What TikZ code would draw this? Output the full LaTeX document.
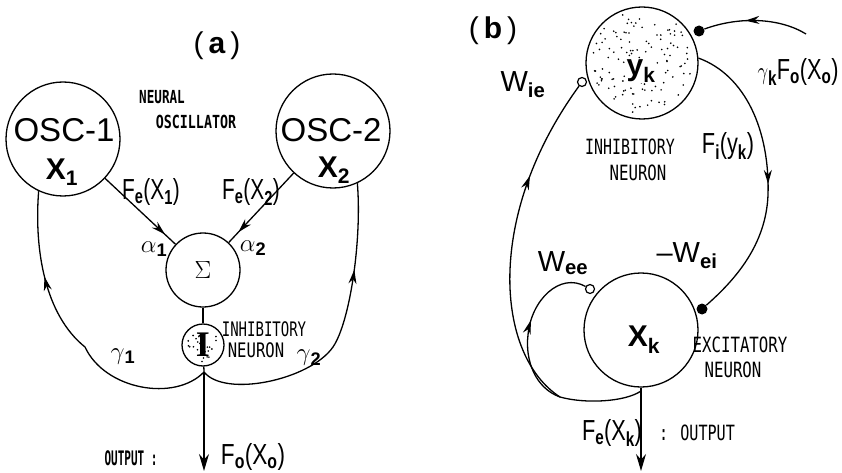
\documentclass[tikz,border=0pt]{standalone}
\usepackage{fontspec}
\usepackage{graphicx}
\setmainfont{Liberation Sans}
\newfontfamily\monof{DejaVu Sans Mono}
\newfontfamily\seriff{Liberation Serif}
\usetikzlibrary{arrows.meta,decorations.markings}
\newcommand\monolbl[3]{{\monof\fontsize{#1}{#1}\selectfont\scalebox{#2}[1]{#3}}}
\newcommand\bigtxt[2]{{\fontsize{#1}{#1}\selectfont #2}}
\newcommand\condtxt[3]{{\fontsize{#1}{#1}\selectfont\scalebox{#2}[1]{#3}}}
\tikzset{
  neuron/.style={circle,draw,line width=1.3pt,inner sep=0pt},
  wire/.style={line width=1.3pt},
  tipend/.style={-{Stealth[length=17pt,width=10pt]}},
  midarrow/.style={postaction={decorate},decoration={markings,mark=at position #1 with {\arrow{Stealth[length=14pt,width=8pt]}}}},
  fdot/.style={circle,fill,inner sep=0pt,minimum size=11pt},
  odot/.style={circle,draw,fill=white,line width=1.2pt,inner sep=0pt,minimum size=9pt},
  lbl/.style={inner sep=0pt},
}
\begin{document}
\begin{tikzpicture}[x=1pt,y=-1pt]
\useasboundingbox[fill=white] (0,0) rectangle (842,473);
% ---------------- panel (a)
\node[neuron,minimum size=114pt] (osc1) at (63,139) {};
\node[neuron,minimum size=114pt] (osc2) at (333,131) {};
\node[neuron,minimum size=74pt] (sum) at (203,270) {\fontsize{24}{24}\selectfont$\Sigma$};
\node[neuron,minimum size=42pt] (inh) at (203,345) {};
\pgfmathsetseed{11}
\foreach \i in {1,...,24}{
  \pgfmathsetmacro\rr{17*sqrt(rnd)}
  \pgfmathsetmacro\aa{360*rnd}
  \fill (inh.center) ++(\aa:\rr) circle[radius=0.9pt];
}
\node[lbl] (ilbl) at (203,345) {\seriff\bfseries\fontsize{36}{36}\selectfont I};
\node[lbl] (t1) at (64,130) {\bigtxt{33}{OSC-1}};
\node[lbl] (t1x) at (62,172) {\bigtxt{30}{\bfseries X\textsubscript{1}}};
\node[lbl] (t2) at (331,130) {\bigtxt{33}{OSC-2}};
\node[lbl] (t2x) at (334,170) {\bigtxt{30}{\bfseries X\textsubscript{2}}};
\draw[wire,midarrow=0.85] (osc1) -- (sum);
\draw[wire,midarrow=0.85] (osc2) -- (sum);
\draw[wire] (sum) -- (inh);
\coordinate (ja) at (204,372);
\coordinate (outa) at (204,471);
\draw[wire] (inh) -- (ja);
\draw[wire,midarrow=0.72] (ja) .. controls (175,402) and (105,390) .. (85,347)
   .. controls (45,315) and (34,250) .. (osc1.-115);
\draw[wire,midarrow=0.72] (ja) .. controls (225,398) and (310,380) .. (333,347)
   .. controls (350,322) and (362,240) .. (osc2.-65);
\draw[wire,tipend] (ja) -- (outa);
\node[lbl] (ta) at (217,46) {\bigtxt{30}{(\,\textbf{a}\,)}};
\node[lbl] (tneu) at (162,97) {\monolbl{18}{0.7}{\bfseries NEURAL}};
\node[lbl] (tosc) at (196,122) {\monolbl{18}{0.74}{\bfseries OSCILLATOR}};
\node[lbl] (fe1) at (151,192) {\condtxt{29}{0.72}{F\textsubscript{\bfseries e}(X\textsubscript{\bfseries 1})}};
\node[lbl] (fe2) at (251,192) {\condtxt{29}{0.72}{F\textsubscript{\bfseries e}(X\textsubscript{\bfseries 2})}};
\node[lbl] (al1) at (154,249) {\bigtxt{26}{$\alpha$\textsubscript{\bfseries 1}}};
\node[lbl] (al2) at (253,248) {\bigtxt{26}{$\alpha$\textsubscript{\bfseries 2}}};
\node[lbl] (tinh) at (264,329) {\monolbl{20}{0.7}{INHIBITORY}};
\node[lbl] (tnr) at (256,350) {\monolbl{20}{0.78}{NEURON}};
\node[lbl] (g2) at (309,358) {\bigtxt{26}{$\gamma$\textsubscript{\bfseries 2}}};
\node[lbl] (g1) at (123,357) {\bigtxt{26}{$\gamma$\textsubscript{\bfseries 1}}};
\node[lbl] (tout) at (131,458) {\monolbl{20}{0.55}{\bfseries OUTPUT :}};
\node[lbl] (f0) at (253,457) {\condtxt{29}{0.78}{F\textsubscript{\bfseries o}(X\textsubscript{\bfseries o})}};
% ---------------- panel (b)
\node[neuron,minimum size=112pt] (yk) at (642,63) {};
\pgfmathsetseed{5}
\foreach \i in {1,...,120}{
  \pgfmathsetmacro\rr{52*sqrt(rnd)}
  \pgfmathsetmacro\aa{360*rnd}
  \fill (yk.center) ++(\aa:\rr) circle[radius=0.9pt];
}
\node[lbl,fill=white,inner sep=1pt] (ykl) at (641,71) {\bigtxt{30}{\bfseries y\textsubscript{k}}};
\node[neuron,minimum size=114pt] (xk) at (641,330) {};
\node[lbl] (xkl) at (644,340) {\bigtxt{30}{\bfseries X\textsubscript{k}}};
\node[fdot] (din) at (699,31) {};
\coordinate (src) at (806,34);
\draw[wire,midarrow=0.6] (src) .. controls (780,18) and (740,16) .. (din);
\node[odot] (wie) at (582,82) {};
\node[odot] (wee) at (590,289) {};
\node[fdot] (dei) at (702,309) {};
\draw[wire,midarrow=0.52] (yk.5) .. controls (745,75) and (770,130) .. (768,195)
   .. controls (766,245) and (735,280) .. (dei);
\coordinate (jb) at (641,391);
\coordinate (mb) at (560,397);
\coordinate (outb) at (641,471);
\draw[wire,tipend] (xk.south) -- (outb);
\draw[wire] (jb) .. controls (625,402) and (585,404) .. (mb);
\draw[wire,midarrow=0.55] (mb) .. controls (535,388) and (525,360) .. (528,335)
   .. controls (531,300) and (560,272) .. (wee);
\draw[wire,midarrow=0.7] (mb) .. controls (495,355) and (485,215) .. (wie);
\node[lbl] (tb) at (493,31) {\bigtxt{30}{(\,\textbf{b}\,)}};
\node[lbl] (lwie) at (523,85) {\bigtxt{29}{W\textsubscript{\bfseries ie}}};
\node[lbl] (lgk) at (798,72) {\condtxt{29}{0.75}{$\gamma$\textsubscript{\bfseries k}F\textsubscript{\bfseries o}(X\textsubscript{\bfseries o})}};
\node[lbl] (lfi) at (728,146) {\condtxt{29}{0.75}{F\textsubscript{\bfseries i}(y\textsubscript{\bfseries k})}};
\node[lbl] (tinhb) at (630,147) {\monolbl{21}{0.71}{INHIBITORY}};
\node[lbl] (tnrb) at (638,173) {\monolbl{21}{0.75}{NEURON}};
\node[lbl] (lwee) at (563,263) {\bigtxt{29}{W\textsubscript{\bfseries ee}}};
\node[lbl] (lwei) at (687,256) {\bigtxt{29}{–W\textsubscript{\bfseries ei}}};
\node[lbl] (texc) at (740,345) {\monolbl{21}{0.75}{EXCITATORY}};
\node[lbl] (tnrc) at (733,370) {\monolbl{21}{0.75}{NEURON}};
\node[lbl] (lfe) at (612,433) {\condtxt{29}{0.75}{F\textsubscript{\bfseries e}(X\textsubscript{\bfseries k})}};
\node[lbl] (tout2) at (697,433) {\monolbl{21}{0.72}{: OUTPUT}};
\end{tikzpicture}
\end{document}
